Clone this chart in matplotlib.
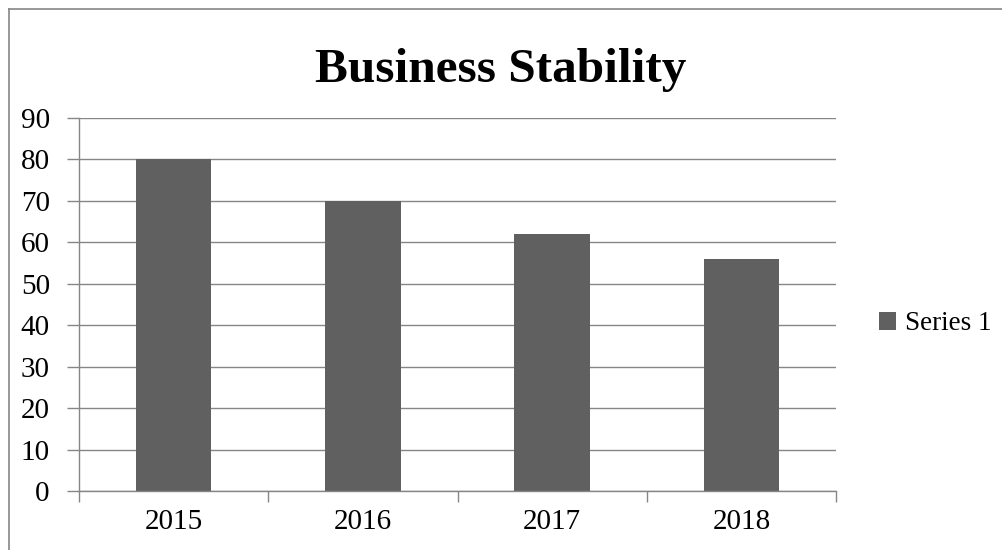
import matplotlib
matplotlib.use("Agg")
import matplotlib.pyplot as plt
from matplotlib.lines import Line2D

categories = ["2015", "2016", "2017", "2018"]
values = [80, 70, 62, 56]
series_name = "Series 1"
title = "Business Stability"
y_ticks = [0, 10, 20, 30, 40, 50, 60, 70, 80, 90]

W, H = 1002, 550
fig = plt.figure(figsize=(W / 100, H / 100), dpi=100)
plt.rcParams["font.family"] = ["Liberation Serif", "DejaVu Serif"]

grid_c = "#868686"
bar_c = "#606060"

ax = fig.add_axes([79 / W, 1 - 491 / H, (836 - 79) / W, (491 - 118) / H])
x = range(len(categories))
ax.bar(x, values, width=0.4, color=bar_c, zorder=3, label=series_name)

ax.set_xlim(-0.5, len(categories) - 0.5)
ax.set_ylim(0, 90)
ax.set_yticks(y_ticks)
ax.set_yticklabels([str(v) for v in y_ticks], fontsize=21)
ax.set_xticks([i - 0.5 for i in range(len(categories) + 1)])
ax.set_xticklabels([""] * (len(categories) + 1))
ax.set_xticks(list(x), minor=True)
ax.set_xticklabels(categories, minor=True, fontsize=21)
ax.tick_params(axis="x", which="minor", length=0, pad=13)
ax.tick_params(axis="x", which="major", length=8, width=1, color=grid_c)
ax.tick_params(axis="y", length=9, width=1, color=grid_c, pad=12)

ax.yaxis.grid(True, color=grid_c, linewidth=1, zorder=0)
ax.set_axisbelow(True)
for s in ["top", "right"]:
    ax.spines[s].set_visible(False)
for s in ["left", "bottom"]:
    ax.spines[s].set_color(grid_c)
    ax.spines[s].set_linewidth(1)
    ax.spines[s].set_zorder(4)

fig.text(501 / W, 1 - 70 / H, title, ha="center", va="center",
         fontsize=35.5, fontweight="bold")

fig.legend(loc="center left", bbox_to_anchor=(879 / W, 1 - 324 / H),
           frameon=False, fontsize=19.5, handlelength=0.62, handleheight=0.62,
           handletextpad=0.35, borderpad=0, borderaxespad=0)

# outer frame (top and left edges)
fig.add_artist(Line2D([8.5 / W, 1], [1 - 8.5 / H, 1 - 8.5 / H], color=grid_c, lw=1.2))
fig.add_artist(Line2D([8.5 / W, 8.5 / W], [0, 1 - 8.5 / H], color=grid_c, lw=1.2))

fig.savefig("out.png", dpi=100)
